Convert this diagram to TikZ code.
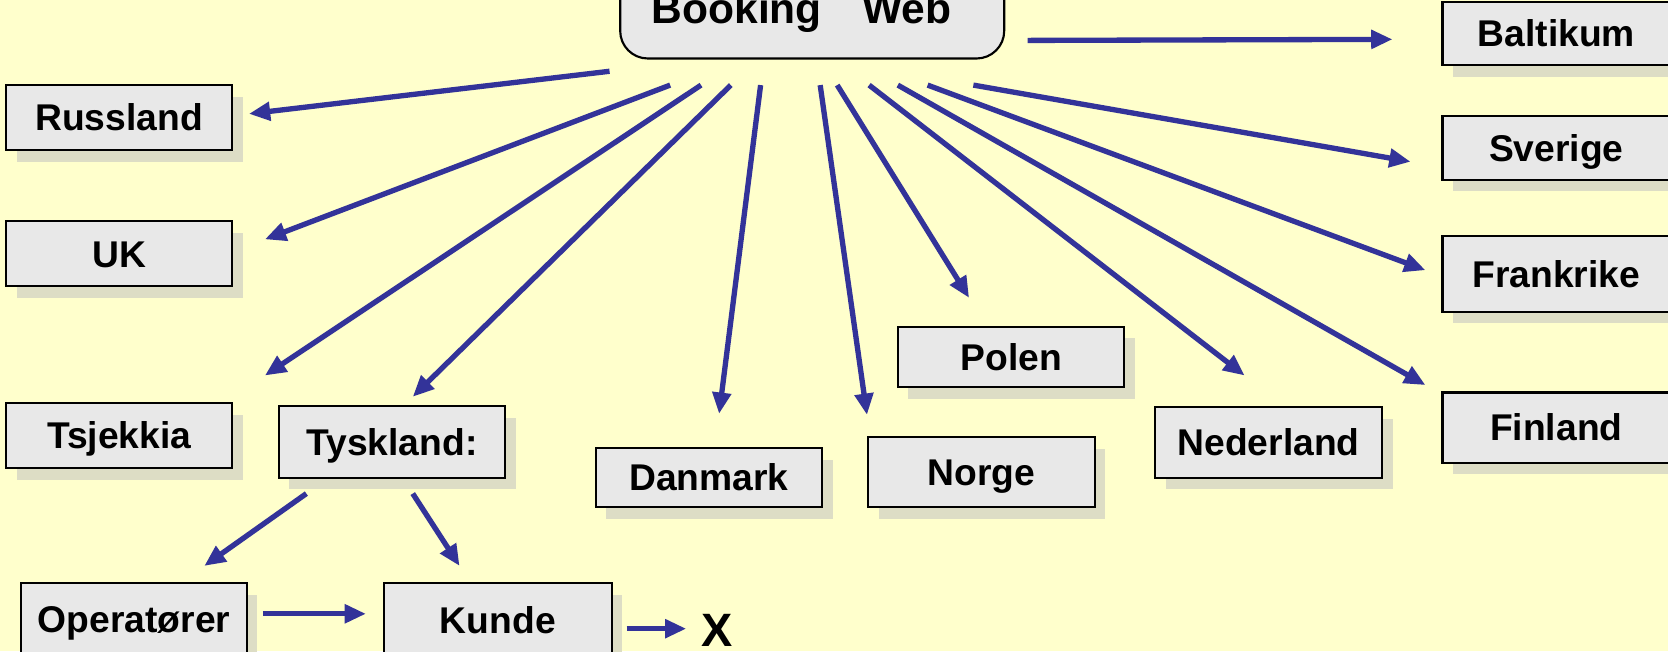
\documentclass[tikz,border=0pt]{standalone}
\usepackage{fontspec}
\setmainfont{Liberation Sans}
\usetikzlibrary{arrows.meta,shadows}
\definecolor{bgyellow}{HTML}{FFFFCC}
\definecolor{boxgray}{HTML}{E8E8E8}
\definecolor{shadowcol}{HTML}{DDDDC5}
\definecolor{arrowblue}{HTML}{333399}
\tikzset{
  box/.style={draw=black, line width=2pt, fill=boxgray, rectangle, inner sep=0pt,
    minimum width=213pt, font=\fontsize{35}{35}\selectfont\bfseries,
    text height=25pt, text depth=0pt,
    drop shadow={shadow xshift=10pt, shadow yshift=-11pt, fill=shadowcol, opacity=1}},
  topbox/.style={draw=black, line width=2pt, fill=boxgray, rectangle, rounded corners=26pt,
    inner sep=0pt, minimum width=361pt, minimum height=95pt,
    font=\fontsize{40}{40}\selectfont\bfseries, text height=29pt, text depth=0pt},
  arr/.style={draw=arrowblue, line width=5pt, -{Triangle[length=20pt,width=17pt]}}
}
\begin{document}
\begin{tikzpicture}[x=1pt,y=-1pt]
\useasboundingbox (0,0) rectangle (1568,612);
\clip (0,0) rectangle (1568,612);
\fill[bgyellow] (0,0) rectangle (1568,612);

\node[topbox] (bw) at (763.5,7.5) {Booking\kern38pt Web\kern20pt\relax};

\node[box, minimum height=59pt, minimum width=214pt] (balt) at (1463,31.5) {Baltikum};
\node[box, minimum height=61pt, minimum width=212pt] (rus) at (112,110.5) {Russland};
\node[box, minimum height=60pt, minimum width=214pt] (sve) at (1463,139) {Sverige};
\node[box, minimum height=61pt, minimum width=212pt] (uk) at (112,238.5) {UK};
\node[box, minimum height=71pt, minimum width=214pt] (fra) at (1463,257.5) {Frankrike};
\node[box, minimum height=57pt] (pol) at (950.5,335.5) {Polen};
\node[box, minimum height=61pt, minimum width=212pt] (tsj) at (112,409.5) {Tsjekkia};
\node[box, minimum height=67pt] (tys) at (368.5,415.5) {Tyskland:};
\node[box, minimum height=66pt, minimum width=214pt] (fin) at (1463,402) {Finland};
\node[box, minimum height=66pt] (ned) at (1192.5,416) {Nederland};
\node[box, minimum height=56pt] (dan) at (666.5,449) {Danmark};
\node[box, minimum height=66pt] (nor) at (922.5,444) {Norge};
\node[box, minimum height=68pt, minimum width=212pt] (ope) at (126,582) {Operatører};
\node[box, minimum height=70pt, minimum width=214pt] (kun) at (468,583) {Kunde};
\node[inner sep=0pt, font=\fontsize{44}{44}\selectfont\bfseries, text height=31.5pt, text depth=0pt] (x) at (674,592) {X};

\draw[arr] ([shift={(21,-18)}]bw.south east) -- ([shift={(-46,5.5)}]balt.west);
\draw[arr] ([shift={(-9,11)}]bw.south west) -- ([shift={(15,-3.5)}]rus.east);
\draw[arr] ([shift={(48,24)}]bw.south west) -- ([shift={(30,-13.5)}]uk.east);
\draw[arr] ([shift={(77,24)}]bw.south west) -- ([shift={(30,-25)}]tsj.north east);
\draw[arr] ([shift={(105,24)}]bw.south west) -- ([shift={(19.5,-8)}]tys.north);
\draw[arr] ([shift={(133,24)}]bw.south west) -- ([shift={(9.5,-31)}]dan.north);
\draw[arr] ([shift={(189,24)}]bw.south west) -- ([shift={(0,-20)}]nor.north west);
\draw[arr] ([shift={(205,24)}]bw.south west) -- ([shift={(68,-26)}]pol.north west);
\draw[arr] ([shift={(235,24)}]bw.south west) -- ([shift={(-22.5,-29)}]ned.north);
\draw[arr] ([shift={(262,24)}]bw.south west) -- ([shift={(-15,-6)}]fin.north west);
\draw[arr] ([shift={(290,24)}]bw.south west) -- ([shift={(-15,-3.5)}]fra.west);
\draw[arr] ([shift={(333,24)}]bw.south west) -- ([shift={(-29,13)}]sve.west);

\draw[arr] ([shift={(27,14)}]tys.south west) -- ([shift={(66,-15)}]ope.north);
\draw[arr] ([shift={(127,14)}]tys.south west) -- ([shift={(-36,-15)}]kun.north);
\draw[arr] ([shift={(14,-5)}]ope.east) -- ([shift={(-16,-6)}]kun.west);
\draw[arr] ([shift={(13,8)}]kun.east) -- ([shift={(-14,-1)}]x.west);
\end{tikzpicture}
\end{document}
